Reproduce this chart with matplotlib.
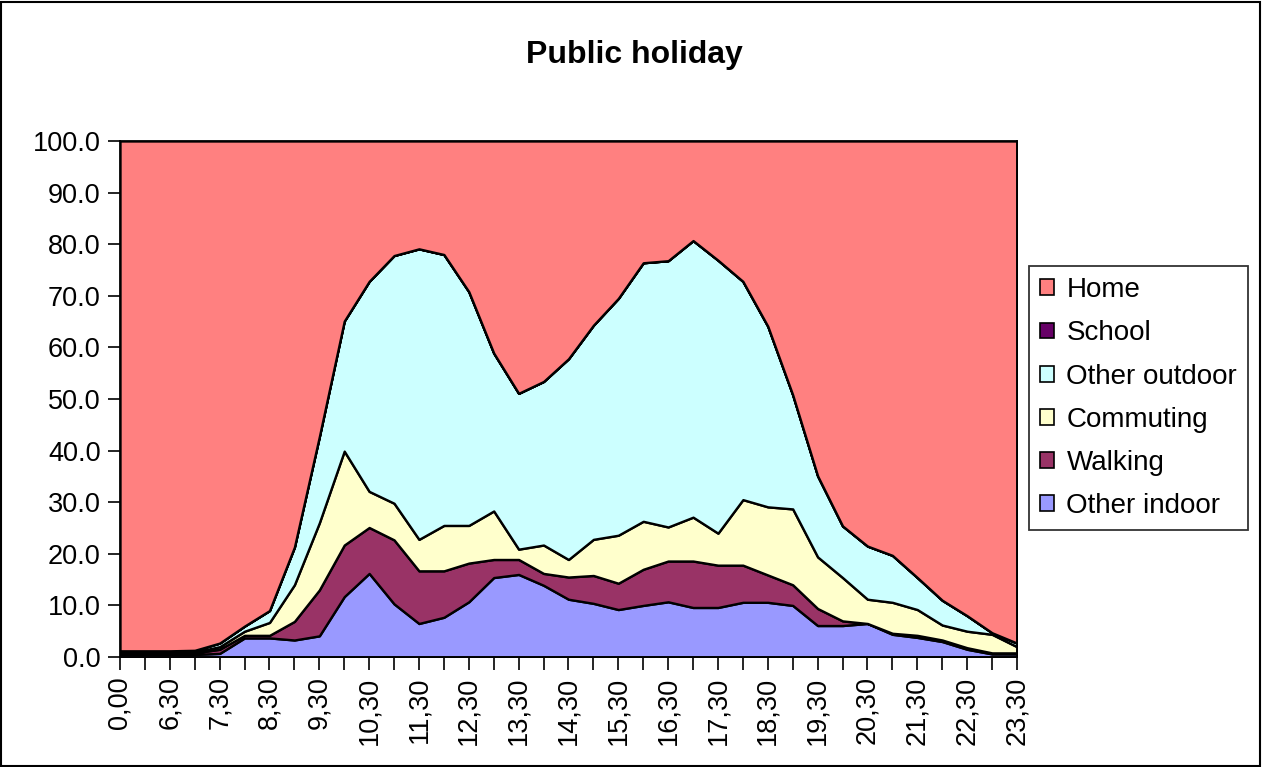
import numpy as np
import matplotlib
matplotlib.use("Agg")
import matplotlib.pyplot as plt
from matplotlib.patches import Patch, Rectangle

plt.rcParams['font.family'] = ['Liberation Sans', 'DejaVu Sans']

# time slots (only every other one is labelled)
times = ['0,00', '6,00', '6,30', '7,00', '7,30', '8,00', '8,30', '9,00', '9,30',
         '10,00', '10,30', '11,00', '11,30', '12,00', '12,30', '13,00', '13,30',
         '14,00', '14,30', '15,00', '15,30', '16,00', '16,30', '17,00', '17,30',
         '18,00', '18,30', '19,00', '19,30', '20,00', '20,30', '21,00', '21,30',
         '22,00', '22,30', '23,00', '23,30']

# share of people per location (%)
other_indoor = [0.5, 0.5, 0.5, 0.5, 0.7, 3.7, 3.7, 3.3, 4.1, 11.7, 16.2, 10.3, 6.5,
                7.7, 10.7, 15.4, 16.0, 13.9, 11.2, 10.4, 9.2, 10.0, 10.7, 9.6, 9.6,
                10.6, 10.6, 10.0, 6.1, 6.1, 6.5, 4.4, 3.8, 3.0, 1.5, 0.6, 0.6]
walking = [0.3, 0.3, 0.3, 0.3, 0.8, 0.5, 0.5, 3.6, 8.9, 10.0, 8.9, 12.4, 10.2,
           9.0, 7.5, 3.5, 2.9, 2.3, 4.3, 5.4, 5.1, 7.0, 7.9, 9.0, 8.2,
           7.2, 5.3, 4.0, 3.3, 0.9, 0.0, 0.2, 0.4, 0.3, 0.3, 0.2, 0.2]
commuting = [0.2, 0.2, 0.2, 0.2, 0.5, 0.8, 2.5, 7.1, 13.0, 18.2, 7.0, 7.1, 6.1,
             8.8, 7.3, 9.4, 2.0, 5.5, 3.4, 7.0, 9.3, 9.3, 6.6, 8.5, 6.2,
             12.7, 13.2, 14.7, 10.0, 8.4, 4.7, 6.0, 5.0, 2.9, 3.2, 3.6, 1.2]
other_outdoor = [0.2, 0.2, 0.2, 0.3, 0.7, 1.0, 2.3, 7.3, 16.7, 25.2, 40.7, 48.0, 56.3,
                 52.5, 45.3, 30.6, 30.2, 31.7, 38.9, 41.5, 45.9, 50.1, 51.6, 53.6, 52.9,
                 42.3, 35.0, 22.1, 15.7, 10.0, 10.3, 9.1, 6.2, 4.8, 3.0, 0.3, 0.7]
school = [0.0] * len(times)
home = list(100 - np.sum([other_indoor, walking, commuting, other_outdoor, school], axis=0))

names = ['Other indoor', 'Walking', 'Commuting', 'Other outdoor', 'School', 'Home']
colors = ['#9999FF', '#993366', '#FFFFCC', '#CCFFFF', '#660066', '#FF8080']

fig = plt.figure(figsize=(12.63, 7.67), dpi=100)
ax = fig.add_axes([0.095, 0.1434, 0.7102, 0.6728])

x = np.arange(len(times))
ax.stackplot(x, other_indoor, walking, commuting, other_outdoor, school, home,
             colors=colors, edgecolor='black', linewidth=1.7)

ax.set_xlim(0, len(times) - 1)
ax.set_ylim(0, 100)
ax.set_yticks(np.arange(0, 101, 10))
ax.set_yticklabels(['%.1f' % v for v in np.arange(0, 101, 10)], fontsize=19.5)
ax.set_xticks(x)
ax.set_xticklabels([t if i % 2 == 0 else '' for i, t in enumerate(times)],
                   rotation=90, fontsize=19.5)
ax.tick_params(direction='out', length=9, width=1.2, pad=5)
for s in ax.spines.values():
    s.set_linewidth(1.3)

fig.text(0.502, 0.928, 'Public holiday', ha='center', va='center',
         fontsize=23, fontweight='bold')

# legend, top entry is the top layer
handles = [Patch(facecolor=c, edgecolor='black', linewidth=1.2) for c in colors[::-1]]
leg = fig.legend(handles, names[::-1], loc='upper left',
                 bbox_to_anchor=(1029 / 1263, 1 - 266 / 767),
                 fontsize=20, frameon=True, fancybox=False,
                 handlelength=0.5, handleheight=0.5, handletextpad=0.45,
                 labelspacing=0.62, borderpad=0.4, borderaxespad=0)
leg.get_frame().set_edgecolor('black')
leg.get_frame().set_linewidth(1.3)

# outer chart border
fig.patches.append(Rectangle((0.001, 0.001), 0.997, 0.997, transform=fig.transFigure,
                             fill=False, edgecolor='black', linewidth=1.5))

plt.savefig('out.png', dpi=100)
